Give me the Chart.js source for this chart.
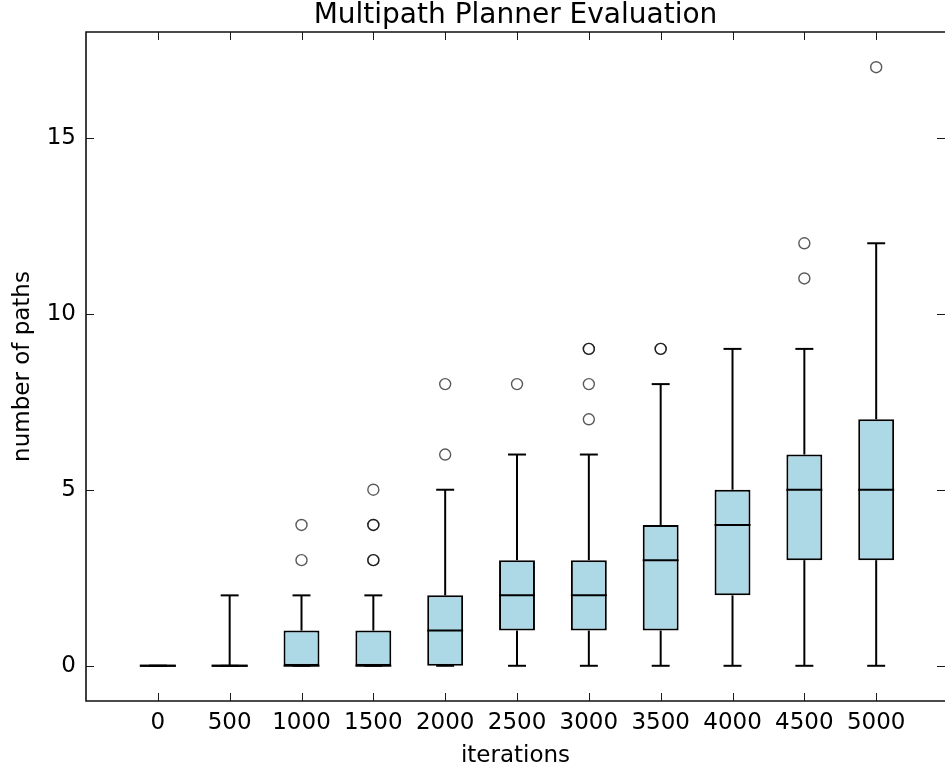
<!DOCTYPE html>
<html><head><meta charset="utf-8">
<script src="https://cdn.jsdelivr.net/npm/chart.js@4/dist/chart.umd.min.js"></script>
<style>
html,body{margin:0;padding:0;overflow:hidden;background:#fff}
#wrap{width:945px;height:772px;position:relative}
canvas{display:block}
</style></head>
<body><div id="wrap"><canvas id="c" width="945" height="772" style="width:945px;height:772px"></canvas></div>
<script>
// ---- data ----
const categories = ['0','500','1000','1500','2000','2500','3000','3500','4000','4500','5000'];
const q1          = [0, 0, 0, 0, 0, 1, 1, 1, 2, 3, 3];
const q3          = [0, 0, 1, 1, 2, 3, 3, 4, 5, 6, 7];
const medians     = [0, 0, 0, 0, 1, 2, 2, 3, 4, 5, 5];
const whiskerLow  = [0, 0, 0, 0, 0, 0, 0, 0, 0, 0, 0];
const whiskerHigh = [0, 2, 2, 2, 5, 6, 6, 8, 9, 9, 12];
const outliers    = [[], [], [3,4], [3,3,4,4,5], [6,8], [8], [7,8,9,9], [9,9], [], [11,12], [17]];
const yTickValues = [0, 5, 10, 15];

const positions = categories.map((_, i) => i + 1);
const FONT = 'DejaVu Sans';

const boxData = positions.map((p, i) => ({x: p, y: [q1[i], q3[i]]}));
const outlierData = [];
outliers.forEach((arr, i) => arr.forEach(v => outlierData.push({x: positions[i], y: v})));

function seg(ctx, x1, y1, x2, y2){ ctx.beginPath(); ctx.moveTo(x1,y1); ctx.lineTo(x2,y2); ctx.stroke(); }

const boxParts = {
  id: 'boxParts',
  afterDatasetsDraw(chart){
    const {ctx} = chart; const x = chart.scales.x, y = chart.scales.y;
    const meta = chart.getDatasetMeta(0);
    ctx.save();
    ctx.strokeStyle = '#000'; ctx.lineWidth = 2; ctx.lineCap = 'butt';
    positions.forEach((p, i) => {
      const cx = x.getPixelForValue(p);
      const bw = meta.data[i].width;
      const cap = bw / 2;
      const yq1 = y.getPixelForValue(q1[i]), yq3 = y.getPixelForValue(q3[i]);
      const ylo = y.getPixelForValue(whiskerLow[i]), yhi = y.getPixelForValue(whiskerHigh[i]);
      seg(ctx, cx, yq3, cx, yhi);
      seg(ctx, cx, yq1, cx, ylo);
      seg(ctx, cx - cap/2, yhi, cx + cap/2, yhi);
      seg(ctx, cx - cap/2, ylo, cx + cap/2, ylo);
      const ym = y.getPixelForValue(medians[i]);
      seg(ctx, cx - bw/2, ym, cx + bw/2, ym);
      if (q1[i] === q3[i]) seg(ctx, cx - bw/2, yq1, cx + bw/2, yq1);
    });
    ctx.restore();
  }
};

const frame = {
  id: 'frame',
  afterDraw(chart){
    const {ctx, chartArea: a} = chart; const x = chart.scales.x, y = chart.scales.y;
    ctx.save();
    ctx.strokeStyle = '#1a1a1a'; ctx.lineWidth = 1;
    const tl = 8;
    positions.forEach(p => {
      const px = Math.round(x.getPixelForValue(p)) + 0.5;
      seg(ctx, px, a.bottom, px, a.bottom - tl);
      seg(ctx, px, a.top, px, a.top + tl);
    });
    yTickValues.forEach(v => {
      const py = Math.round(y.getPixelForValue(v)) + 0.5;
      seg(ctx, a.left, py, a.left + tl, py);
      seg(ctx, a.right, py, a.right - tl, py);
    });
    ctx.lineWidth = 1.6; ctx.strokeStyle = '#111';
    ctx.beginPath();
    ctx.moveTo(a.right + 3, a.top); ctx.lineTo(a.left, a.top);
    ctx.lineTo(a.left, a.bottom); ctx.lineTo(a.right + 3, a.bottom);
    ctx.stroke();
    ctx.restore();
  }
};

Chart.defaults.font.family = FONT;
Chart.defaults.color = '#000';

new Chart(document.getElementById('c'), {
  type: 'bar',
  data: {
    datasets: [
      {
        type: 'bar', data: boxData,
        backgroundColor: '#add8e6', borderColor: '#000', borderWidth: 2, borderSkipped: false,
        barPercentage: 0.5, categoryPercentage: 1.0, order: 2
      },
      {
        type: 'scatter', data: outlierData, showLine: false,
        pointRadius: 5.5, pointBackgroundColor: 'rgba(255,255,255,0)', pointBorderColor: 'rgba(0,0,0,0.65)',
        pointBorderWidth: 1.4, order: 1
      }
    ]
  },
  options: {
    responsive: false, maintainAspectRatio: false, animation: false, devicePixelRatio: 1,
    layout: {autoPadding: false, padding: {left: 0, right: 0, top: 0, bottom: 0}},
    plugins: {
      legend: {display: false}, tooltip: {enabled: false},
      title: {display: true, fullSize: false, text: 'Multipath Planner Evaluation', color: '#000',
        font: {family: FONT, size: 28, weight: 'normal', lineHeight: 1},
        padding: {top: 2, bottom: 2}}
    },
    scales: {
      x: {
        type: 'linear', min: 0, max: 11.958, offset: false,
        grid: {display: false, drawTicks: false}, border: {display: false},
        afterBuildTicks: s => { s.ticks = positions.map(v => ({value: v})); },
        ticks: {callback: v => categories[v - 1] ?? '', color: '#000', font: {family: FONT, size: 23},
          padding: 8, maxRotation: 0, autoSkip: false},
        title: {display: true, text: 'iterations', color: '#000', font: {family: FONT, size: 23},
          padding: {top: 0, bottom: 2.5}},
        afterFit: s => { s.height = 71; }
      },
      y: {
        type: 'linear', min: -1, max: 18,
        grid: {display: false, drawTicks: false}, border: {display: false},
        afterBuildTicks: s => { s.ticks = yTickValues.map(v => ({value: v})); },
        ticks: {color: '#000', font: {family: FONT, size: 23}, padding: 10},
        title: {display: true, text: 'number of paths', color: '#000', font: {family: FONT, size: 23},
          padding: {top: 9, bottom: 0}},
        afterFit: s => { s.width = 86; }
      }
    }
  },
  plugins: [boxParts, frame]
});
</script>
</body></html>
